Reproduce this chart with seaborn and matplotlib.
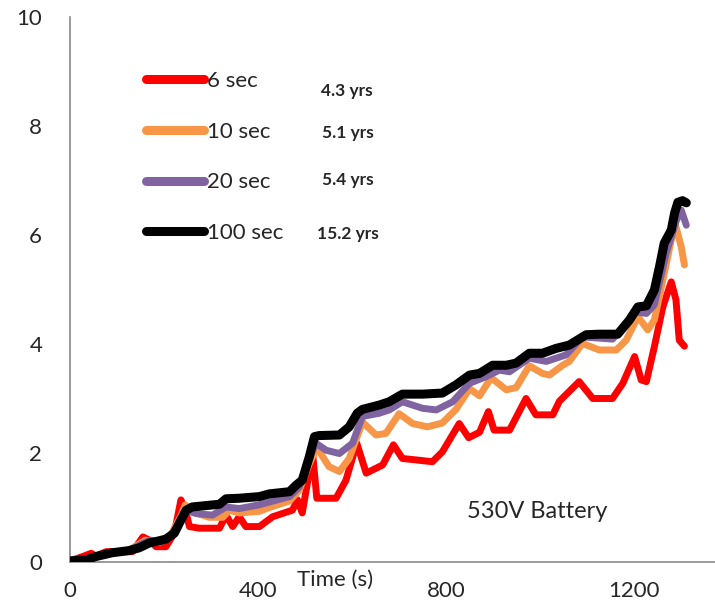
import matplotlib
matplotlib.use("Agg")
import matplotlib.pyplot as plt
import seaborn as sns
import numpy as np

# ---------------- data ----------------
t_red = [0, 30, 45, 55, 77, 133, 155, 169, 183, 204, 222, 236, 247, 254, 275, 318, 332, 346, 360, 374,
         403, 431, 473, 484, 494, 516, 525, 566, 587, 610, 630, 665, 688, 707, 771, 792, 828, 848, 871,
         890, 902, 935, 970, 991, 1027, 1041, 1083, 1112, 1154, 1176, 1201, 1215, 1226, 1243, 1261, 1279,
         1289, 1296, 1307]
v_red = [0.02, 0.11, 0.16, 0.11, 0.19, 0.19, 0.46, 0.40, 0.28, 0.28, 0.53, 1.14, 0.90, 0.65, 0.62, 0.62,
         0.86, 0.65, 0.83, 0.65, 0.65, 0.83, 0.95, 1.14, 0.90, 2.00, 1.17, 1.17, 1.50, 2.18, 1.63, 1.78,
         2.15, 1.90, 1.84, 2.02, 2.54, 2.28, 2.38, 2.76, 2.42, 2.42, 3.00, 2.70, 2.70, 2.95, 3.31, 3.00,
         3.00, 3.28, 3.77, 3.34, 3.31, 3.95, 4.68, 5.14, 4.81, 4.07, 3.96]

t_orange = [0, 34, 55, 90, 126, 147, 160, 190, 211, 236, 245, 260, 296, 325, 339, 360, 403, 424, 467,
            488, 509, 525, 551, 573, 594, 622, 651, 672, 700, 729, 760, 792, 821, 850, 871, 896, 928,
            949, 977, 1005, 1020, 1048, 1062, 1090, 1126, 1162, 1183, 1208, 1229, 1243, 1261, 1279,
            1289, 1300, 1307]
v_orange = [0.02, 0.05, 0.10, 0.17, 0.22, 0.33, 0.40, 0.36, 0.44, 0.85, 1.05, 0.92, 0.82, 0.82, 0.95,
            0.90, 0.93, 1.00, 1.12, 1.32, 1.80, 2.10, 1.75, 1.66, 1.90, 2.57, 2.33, 2.36, 2.72, 2.54,
            2.48, 2.55, 2.80, 3.18, 3.05, 3.38, 3.16, 3.20, 3.60, 3.46, 3.43, 3.61, 3.68, 4.01, 3.89,
            3.89, 4.07, 4.50, 4.26, 4.44, 5.17, 5.91, 6.15, 5.79, 5.45]

t_purple = [0, 34, 55, 90, 126, 147, 169, 190, 211, 236, 247, 268, 303, 332, 360, 403, 424, 467, 488,
            509, 523, 545, 573, 601, 622, 658, 679, 707, 750, 779, 814, 850, 885, 913, 935, 977, 1013,
            1055, 1090, 1154, 1183, 1204, 1226, 1243, 1268, 1290, 1300, 1311]
v_purple = [0.02, 0.04, 0.10, 0.17, 0.21, 0.31, 0.40, 0.37, 0.44, 0.77, 0.95, 0.89, 0.86, 1.01, 0.98,
            1.05, 1.10, 1.20, 1.38, 1.90, 2.18, 2.05, 1.99, 2.18, 2.67, 2.73, 2.79, 2.94, 2.82, 2.79,
            2.94, 3.28, 3.40, 3.52, 3.49, 3.74, 3.68, 3.80, 4.13, 4.09, 4.35, 4.59, 4.56, 4.72, 5.66,
            6.27, 6.46, 6.18]

t_black = [0, 34, 55, 90, 126, 147, 169, 190, 204, 222, 236, 247, 260, 318, 332, 360, 403, 424, 467,
           481, 494, 509, 520, 530, 573, 594, 611, 622, 658, 679, 707, 750, 792, 821, 850, 871, 899,
           928, 949, 977, 1005, 1034, 1062, 1098, 1126, 1165, 1190, 1208, 1226, 1243, 1254, 1264, 1279,
           1286, 1293, 1303, 1311]
v_black = [0.02, 0.04, 0.10, 0.17, 0.21, 0.26, 0.35, 0.39, 0.42, 0.53, 0.77, 0.95, 1.01, 1.06, 1.16,
           1.17, 1.20, 1.25, 1.29, 1.41, 1.50, 1.93, 2.30, 2.32, 2.33, 2.48, 2.73, 2.80, 2.88, 2.94,
           3.08, 3.08, 3.10, 3.25, 3.43, 3.46, 3.61, 3.61, 3.65, 3.83, 3.83, 3.92, 3.98, 4.17, 4.18,
           4.18, 4.44, 4.68, 4.70, 4.99, 5.42, 5.85, 6.09, 6.40, 6.60, 6.63, 6.59]

labels = ["6 sec", "10 sec", "20 sec", "100 sec"]
life = ["4.3 yrs", "5.1 yrs", "5.4 yrs", "15.2 yrs"]
x_ticks = [0, 400, 800, 1200]
y_ticks = [0, 2, 4, 6, 8, 10]

# ---------------- style ----------------
sns.set_theme(style="white")
plt.rcParams["font.family"] = ["Lato", "DejaVu Sans"]

W, H = 715, 608
fig = plt.figure(figsize=(W / 100, H / 100), dpi=100)
ax = fig.add_axes([70 / W, (H - 562) / H, (W - 70) / W, (562 - 17) / H])

colors = ["#FF0000", "#F79646", "#8064A2", "#000000"]
widths = [5.0, 5.0, 5.0, 6.5]
series = [(t_red, v_red), (t_orange, v_orange), (t_purple, v_purple), (t_black, v_black)]
for (t, v), c, lw, lab, z in zip(series, colors, widths, labels, [2, 3, 4, 5]):
    sns.lineplot(x=t, y=v, color=c, linewidth=lw, label=lab, ax=ax, sort=False,
                 solid_capstyle="round", solid_joinstyle="round", zorder=z)

ax.set_xlim(0, 1372)
ax.set_ylim(0, 10)
ax.set_xticks(x_ticks)
ax.set_yticks(y_ticks)
ax.set_xticklabels([str(v) for v in x_ticks], fontsize=16)
ax.set_yticklabels([str(v) for v in y_ticks], fontsize=16)
ax.tick_params(axis="x", direction="out", length=6, width=1.2, color="#898989", pad=8)
ax.tick_params(axis="y", direction="in", length=6, width=1.2, color="#898989", pad=20)

for s in ["top", "right"]:
    ax.spines[s].set_visible(False)
for s in ["left", "bottom"]:
    ax.spines[s].set_color("#898989")
    ax.spines[s].set_linewidth(1.2)

ax.set_xlabel("Time (s)", fontsize=16, va="center")
ax.xaxis.set_label_coords((335 - 70) / (W - 70), (562 - 580) / (562 - 17))
ax.set_ylabel("")

leg = ax.legend(loc="upper left", bbox_to_anchor=(146 / W, (H - 71) / H),
                bbox_transform=fig.transFigure, frameon=False, fontsize=16,
                handlelength=2.6, handletextpad=0.15, labelspacing=1.38, borderpad=0,
                borderaxespad=0)
for line in leg.get_lines():
    line.set_linewidth(6.5)
    line.set_solid_capstyle("round")

yrs_y = [90.7, 132.7, 180, 234]
yrs_x = [321, 322, 322, 317]
for txt, px, py in zip(life, yrs_x, yrs_y):
    fig.text(px / W, (H - py) / H, txt, fontsize=12.5, fontweight="bold", ha="left", va="center")

fig.text(537 / W, (H - 511) / H, "530V Battery", fontsize=17, ha="center", va="center")

fig.savefig("out.png", dpi=100)
